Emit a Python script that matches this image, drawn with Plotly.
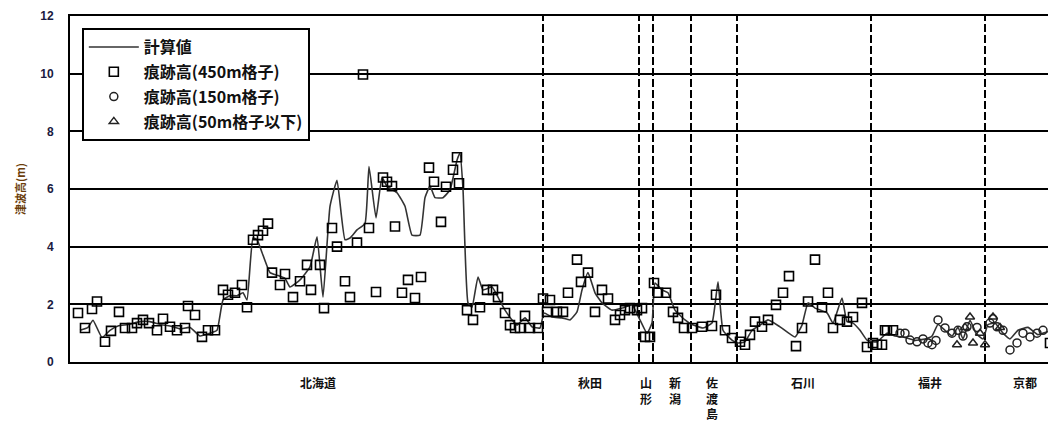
import plotly.graph_objects as go

# x positions are along-coast observation positions (arbitrary units)
calc_x = [10, 18, 23, 32, 40, 48, 58, 70, 80, 90, 100, 110, 120, 130, 140, 147, 153, 160, 167, 173, 177, 183, 187, 192, 200, 208, 215, 220, 230, 240, 247, 253, 260, 267, 275, 280, 287, 295, 299, 306, 312, 317, 327, 335, 342, 350, 355, 360, 365, 373, 380, 387, 390, 393, 398, 402, 408, 413, 422, 428, 435, 442, 447, 455, 462, 470, 474, 482, 492, 500, 507, 512, 518, 525, 532, 542, 552, 562, 570, 577, 582, 585, 592, 598, 605, 615, 622, 633, 642, 648, 653, 662, 668, 675, 682, 690, 698, 710, 725, 732, 738, 745, 757, 763, 772, 777, 783, 790, 797, 807, 817, 825, 835, 845, 855, 862, 868, 875, 882, 888, 893, 900, 906, 913, 918, 925, 933, 940, 948, 958, 968, 978, 986]
calc_y = [1.1, 1.2, 1.45, 0.85, 1.1, 1.25, 1.3, 1.4, 1.4, 1.3, 1.25, 1.15, 1.2, 0.9, 1.0, 1.1, 2.15, 2.3, 2.3, 2.4, 2.15, 4.3, 4.25, 3.8, 3.1, 3.0, 2.9, 2.6, 2.85, 3.3, 4.34, 2.25, 5.4, 6.3, 4.24, 4.3, 4.58, 4.8, 6.78, 5.0, 6.4, 6.1, 5.87, 5.4, 4.4, 4.4, 5.7, 6.1, 5.7, 5.7, 5.97, 7.0, 7.25, 6.0, 2.05, 1.9, 2.95, 2.5, 2.6, 2.25, 1.8, 1.46, 1.28, 1.53, 1.22, 1.18, 1.7, 1.56, 1.53, 1.46, 1.74, 2.5, 3.1, 2.4, 2.05, 1.8, 1.87, 1.98, 1.46, 1.0, 1.35, 2.74, 2.5, 2.4, 1.8, 1.46, 1.3, 1.18, 1.35, 2.78, 1.1, 0.76, 0.66, 0.7, 1.1, 1.28, 1.46, 1.22, 0.87, 1.28, 2.05, 1.87, 1.7, 1.35, 2.22, 1.4, 1.35, 1.1, 0.76, 0.7, 1.0, 0.9, 0.85, 0.75, 0.8, 0.9, 1.3, 1.1, 0.9, 1.2, 0.8, 1.45, 1.0, 0.8, 1.3, 1.35, 1.0, 0.8, 1.1, 1.2, 0.95, 1.05, 0.9]

sq_x = [8, 15, 22, 27, 35, 41, 49, 55, 62, 67, 73, 79, 87, 93, 100, 107, 115, 118, 125, 132, 138, 145, 153, 158, 165, 172, 177, 183, 188, 193, 198, 202, 210, 215, 223, 230, 237, 241, 250, 254, 262, 267, 275, 280, 287, 293, 299, 306, 313, 317, 322, 325, 332, 338, 345, 351, 359, 364, 371, 376, 383, 387, 389,
        397, 403, 410, 417, 423, 428, 435, 440, 445, 450, 455, 460, 468, 473, 477, 480, 487, 493, 498, 507, 511, 518, 525, 532, 538, 545, 550, 555, 560, 567, 572, 575, 580, 584, 588, 596, 603, 608, 614,
        622, 632, 642, 646, 655, 662, 670, 675, 680, 685, 692, 698, 706, 713, 719, 726, 732, 738, 745, 752, 758, 763, 770, 777, 783, 792, 797, 803, 812, 817, 807, 815, 823, 980]
sq_y = [1.7, 1.18, 1.84, 2.1, 0.7, 1.08, 1.74, 1.18, 1.18, 1.35, 1.46, 1.35, 1.1, 1.5, 1.22, 1.1, 1.18, 1.94, 1.63, 0.87, 1.1, 1.1, 2.5, 2.33, 2.4, 2.67, 1.9, 4.24, 4.4, 4.55, 4.8, 3.1, 2.67, 3.05, 2.25, 2.8, 3.37, 2.5, 3.37, 1.87, 4.65, 4.0, 2.8, 2.25, 4.14, 9.97, 4.65, 2.43, 6.4, 6.25, 6.1, 4.7, 2.4, 2.85, 2.22, 2.95, 6.74, 6.25, 4.86, 6.08, 6.67, 7.1, 6.2,
        1.8, 1.46, 1.9, 2.5, 2.5, 2.25, 1.7, 1.28, 1.18, 1.18, 1.6, 1.18, 1.18, 2.2, 1.74, 2.15, 1.74, 1.74, 2.4, 3.55, 2.78, 3.1, 1.74, 2.5, 2.2, 1.46, 1.63, 1.8, 1.87, 1.8, 1.87, 0.87, 0.87, 2.74, 2.4, 2.4, 1.74, 1.53, 1.18,
        1.18, 1.22, 1.25, 2.33, 1.1, 0.83, 0.7, 0.6, 0.94, 1.4, 1.22, 1.46, 1.98, 2.4, 2.98, 0.55, 1.18, 2.1, 3.55, 1.9, 2.4, 1.18, 1.46, 1.4, 1.56, 2.05, 0.52, 0.66, 0.6, 1.1, 0.6, 1.1, 1.1, 0.66]

ci_x = [830, 835, 840, 847, 853, 858, 862, 866, 868, 875, 882, 888, 893, 897, 907, 920, 923, 927, 933, 940, 947, 953, 960, 967, 973, 983]
ci_y = [1.0, 1.0, 0.76, 0.7, 0.8, 0.66, 0.6, 0.75, 1.46, 1.18, 1.0, 1.1, 0.9, 1.22, 1.2, 1.35, 1.5, 1.22, 1.1, 0.42, 0.66, 1.0, 0.87, 1.0, 1.1, 0.9]

tr_x = [887, 895, 900, 903, 910, 915, 923, 930]
tr_y = [0.6, 1.2, 1.56, 0.66, 1.0, 0.6, 1.56, 1.2]

boundaries = [473, 569, 583, 621, 667, 801, 915]
region_names = ["北海道", "秋田", "山<br>形", "新<br>潟", "佐<br>渡<br>島", "石川", "福井", "京都"]
region_pos = [248, 520, 576, 605, 642, 733, 860, 955]

y_ticks = [0, 2, 4, 6, 8, 10, 12]

fig = go.Figure()
fig.add_trace(go.Scatter(x=calc_x, y=calc_y, mode="lines", name="<b>計算値</b>", legendgroup="a",
                         line=dict(color="#333333", width=1.6, shape="spline", smoothing=0.4)))
fig.add_trace(go.Scatter(x=sq_x, y=sq_y, mode="markers", name="<b>痕跡高(450m格子)</b>", legendgroup="b",
                         marker=dict(symbol="square-open", size=9, color="black", line=dict(width=1.6))))
fig.add_trace(go.Scatter(x=ci_x, y=ci_y, mode="markers", name="<b>痕跡高(150m格子)</b>", legendgroup="c",
                         marker=dict(symbol="circle-open", size=8, color="#222", line=dict(width=1.5))))
fig.add_trace(go.Scatter(x=tr_x, y=tr_y, mode="markers", name="<b>痕跡高(50m格子以下)</b>", legendgroup="d",
                         marker=dict(symbol="triangle-up-open", size=8, color="#222", line=dict(width=1.5))))

for b in boundaries:
    fig.add_shape(type="line", x0=b, x1=b, y0=0, y1=12, xref="x", yref="y",
                  line=dict(color="black", width=2, dash="8px,3px"), layer="below")

for name, pos in zip(region_names, region_pos):
    fig.add_annotation(x=pos, y=-0.03, xref="x", yref="paper", text="<b>" + name + "</b>", showarrow=False,
                       yanchor="top", xanchor="center",
                       font=dict(family="Noto Sans CJK JP", size=12, color="#111"))

# the page body adds an 8px offset; the figure is sized so the plot lands where the reference has it
fig.update_layout(
    width=1048, height=422,
    margin=dict(l=62, r=0, t=8, b=68, autoexpand=False),
    plot_bgcolor="white", paper_bgcolor="white",
    showlegend=True,
    legend=dict(x=0.012, y=0.965, xanchor="left", yanchor="top",
                bordercolor="black", borderwidth=2, bgcolor="white",
                font=dict(family="Noto Sans CJK JP", size=16, color="#111"),
                tracegroupgap=1, itemwidth=50),
    xaxis=dict(range=[0, 986], showticklabels=False, ticks="", showgrid=False, zeroline=False,
               showline=True, linecolor="black", linewidth=2, mirror=True, automargin=False),
    yaxis=dict(range=[0, 12], tickvals=y_ticks, showgrid=True, gridcolor="black", gridwidth=2,
               zeroline=False, showline=True, linecolor="black", linewidth=2, ticks="",
               ticklabelstandoff=12, automargin=False,
               tickfont=dict(family="Liberation Sans", size=12, color="#1a1a40", weight="bold"),
               title=dict(text="<b>津波高(m)</b>", standoff=12,
                          font=dict(family="Noto Sans CJK JP", size=11, color="#6b3d0a"))),
)

fig.write_html("out.html")
